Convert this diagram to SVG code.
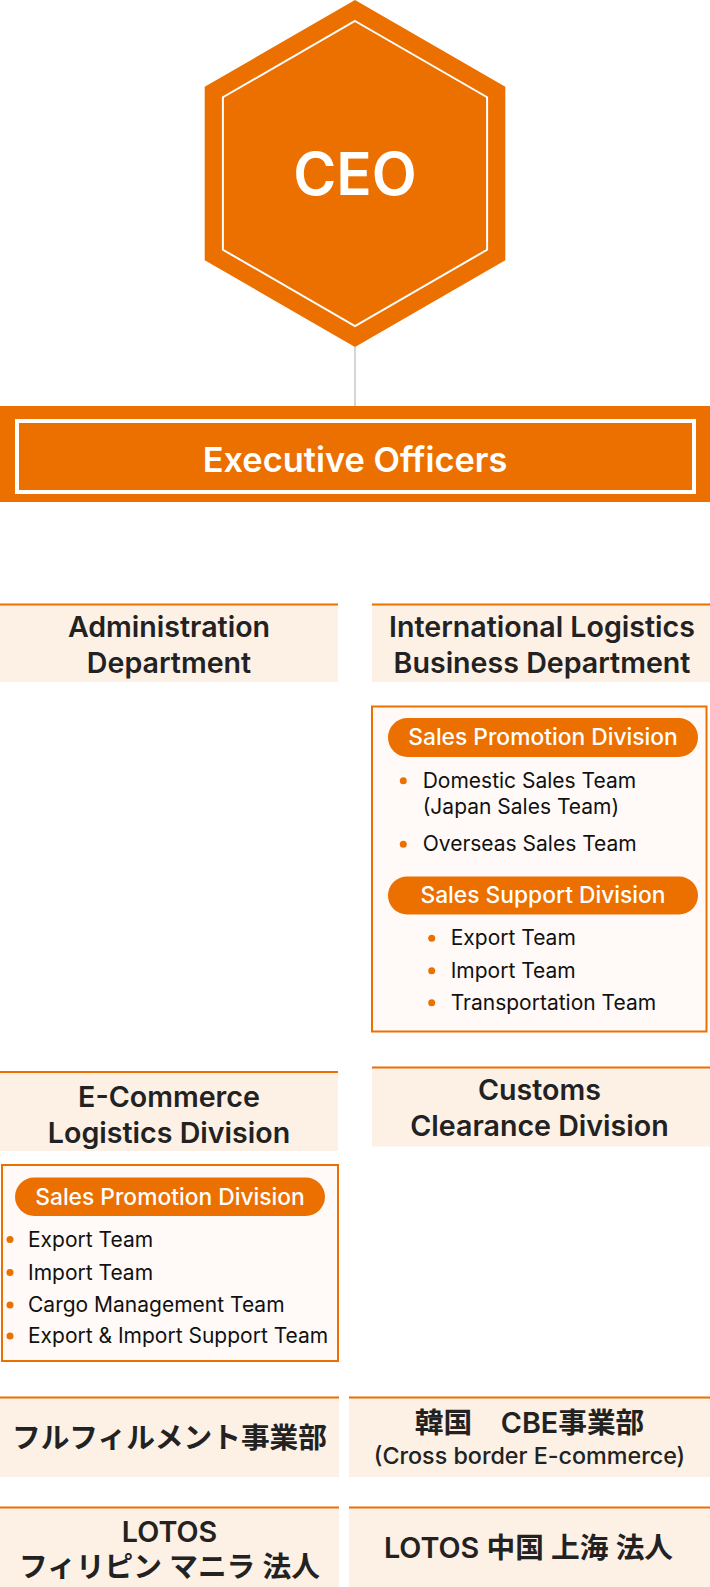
<svg xmlns="http://www.w3.org/2000/svg" width="710" height="1587" viewBox="0 0 710 1587">
<style>
text{font-family:Inter,"Noto Sans","Noto Sans CJK JP",sans-serif}
.or{fill:#EC7000}
.hd{fill:#FDF0E5}
.ht{font-size:28.6px;font-weight:600;fill:#222;text-anchor:middle}
.box{fill:#FFFAF7;stroke:#EC7000;stroke-width:2}
.pt{font-size:22.8px;font-weight:500;fill:#fff;text-anchor:middle}
.it{font-size:21px;font-weight:400;fill:#111}
.jt{font-size:28.7px;font-weight:600;fill:#222;text-anchor:middle;font-family:Inter,"Noto Sans CJK JP",sans-serif}
.st{font-size:23.3px;font-weight:500;fill:#222;text-anchor:middle}
</style>
<g id="connectors">
<line x1="355" y1="347" x2="355" y2="406" stroke="#d5d5d5" stroke-width="2"/>
</g>
<g id="ceo">
<polygon class="or" points="355,0 505.3,86.75 505.3,260.25 355,347 204.7,260.25 204.7,86.75"/>
<polygon fill="none" stroke="#fff" stroke-width="2" points="355,21 487.1,97.25 487.1,249.75 355,326 222.9,249.75 222.9,97.25"/>
<text x="355" y="195" font-size="58.5" font-weight="600" fill="#fff" text-anchor="middle">CEO</text>
</g>
<g id="executive-officers">
<rect class="or" x="0" y="406" width="710" height="96"/>
<rect x="17" y="421" width="677" height="71" fill="none" stroke="#fff" stroke-width="4"/>
<text x="355" y="472" font-size="34.4" font-weight="600" fill="#fff" text-anchor="middle">Executive Officers</text>
</g>
<g id="administration">
<rect class="hd" x="0" y="604" width="338" height="78"/>
<rect class="or" x="0" y="603.5" width="338" height="2"/>
<text class="ht" x="169" y="637">Administration</text>
<text class="ht" x="169" y="673">Department</text>
</g>
<g id="international">
<rect class="hd" x="372" y="604" width="338" height="78"/>
<rect class="or" x="372" y="603.5" width="338" height="2"/>
<text class="ht" x="542" y="637">International Logistics</text>
<text class="ht" x="542" y="673">Business Department</text>
</g>
<g id="international-teams">
<rect class="box" x="372" y="706.5" width="334.5" height="325"/>
<rect class="or" x="388" y="718" width="310" height="39" rx="19.5"/>
<text class="pt" x="543" y="745">Sales Promotion Division</text>
<circle class="or" cx="403.3" cy="780.7" r="3.5"/>
<text class="it" x="422.7" y="787.5">Domestic Sales Team</text>
<text class="it" x="422.7" y="814">(Japan Sales Team)</text>
<circle class="or" cx="403.3" cy="844.3" r="3.5"/>
<text class="it" x="422.7" y="850.8">Overseas Sales Team</text>
<rect class="or" x="388" y="876.5" width="310" height="38" rx="19"/>
<text class="pt" x="543" y="903.3">Sales Support Division</text>
<circle class="or" cx="431.7" cy="938.3" r="3.5"/>
<text class="it" x="450.7" y="945.2">Export Team</text>
<circle class="or" cx="431.7" cy="970.7" r="3.5"/>
<text class="it" x="450.7" y="977.5">Import Team</text>
<circle class="or" cx="431.7" cy="1002.7" r="3.5"/>
<text class="it" x="450.7" y="1009.5">Transportation Team</text>
</g>
<g id="ecommerce">
<rect class="hd" x="0" y="1072" width="338" height="79"/>
<rect class="or" x="0" y="1071" width="338" height="2"/>
<text class="ht" x="169" y="1106.5">E-Commerce</text>
<text class="ht" x="169" y="1142.5">Logistics Division</text>
</g>
<g id="customs">
<rect class="hd" x="372" y="1067.5" width="338" height="79"/>
<rect class="or" x="372" y="1066.5" width="338" height="2"/>
<text class="ht" x="539.5" y="1100">Customs</text>
<text class="ht" x="539.5" y="1136">Clearance Division</text>
</g>
<g id="ecommerce-teams">
<rect class="box" x="2" y="1165" width="336" height="196"/>
<rect class="or" x="15" y="1177.5" width="310" height="38.5" rx="19.25"/>
<text class="pt" x="170" y="1205">Sales Promotion Division</text>
<circle class="or" cx="10" cy="1239.5" r="3.5"/>
<text class="it" x="28" y="1247">Export Team</text>
<circle class="or" cx="10" cy="1272.5" r="3.5"/>
<text class="it" x="28" y="1279.6">Import Team</text>
<circle class="or" cx="10" cy="1305" r="3.5"/>
<text class="it" x="28" y="1312">Cargo Management Team</text>
<circle class="or" cx="10" cy="1336" r="3.5"/>
<text class="it" x="28" y="1343">Export &amp; Import Support Team</text>
</g>
<g id="fulfillment">
<rect class="hd" x="0" y="1397.5" width="339" height="79.5"/>
<rect class="or" x="0" y="1396.5" width="339" height="2"/>
<text class="jt" x="169.5" y="1447.5">フルフィルメント事業部</text>
</g>
<g id="korea-cbe">
<rect class="hd" x="349" y="1397.5" width="361" height="79.5"/>
<rect class="or" x="349" y="1396.5" width="361" height="2"/>
<text class="jt" x="529.5" y="1432.5" font-size="29.3">韓国　CBE事業部</text>
<text class="st" x="529.5" y="1463.5">(Cross border E-commerce)</text>
</g>
<g id="lotos-manila">
<rect class="hd" x="0" y="1507.5" width="339" height="79.5"/>
<rect class="or" x="0" y="1506.5" width="339" height="2"/>
<text class="jt" x="169.5" y="1541.5" font-size="28">LOTOS</text>
<text class="jt" x="169.5" y="1577">フィリピン マニラ 法人</text>
</g>
<g id="lotos-shanghai">
<rect class="hd" x="349" y="1507.5" width="361" height="79.5"/>
<rect class="or" x="349" y="1506.5" width="361" height="2"/>
<text class="jt" x="528.5" y="1557.5" font-size="29.8">LOTOS 中国 上海 法人</text>
</g>
</svg>
